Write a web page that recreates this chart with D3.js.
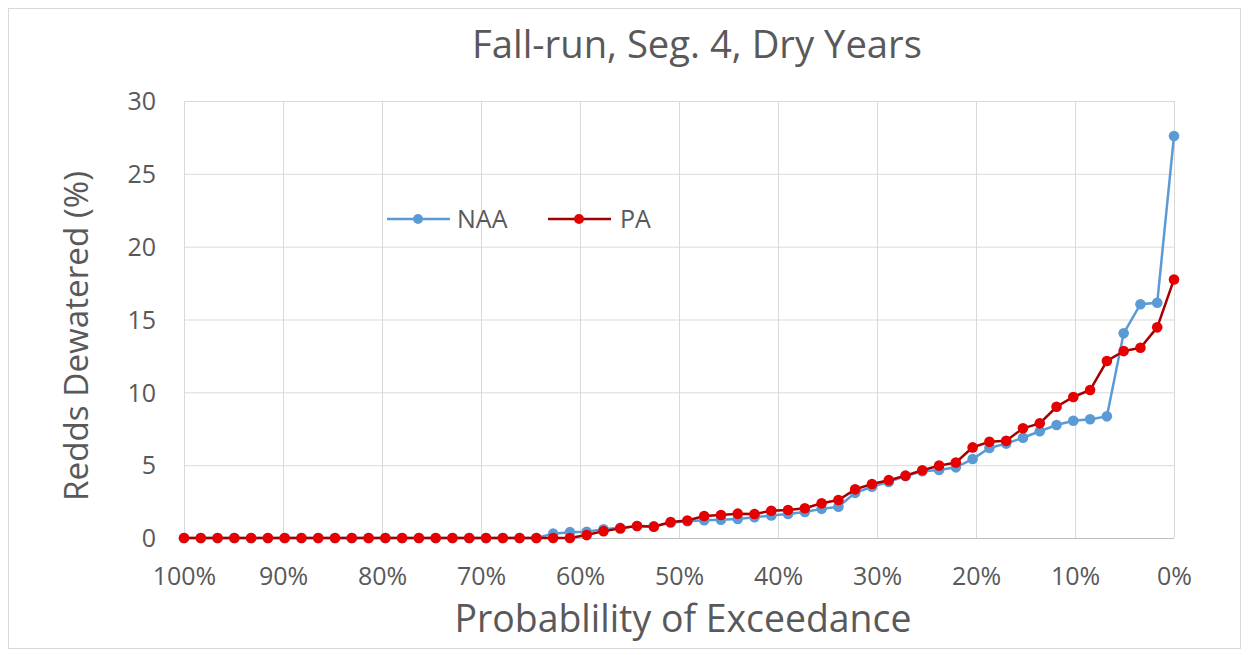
<!DOCTYPE html>
<html><head><meta charset="utf-8">
<script src="https://cdn.jsdelivr.net/npm/d3@7"></script>
<style>body{margin:0;background:#fff;} text{font-family:"Open Sans","Noto Sans",sans-serif;fill:#595959;}</style>
</head><body>
<svg id="chart" width="1249" height="655"></svg>
<script>
const title = "Fall-run, Seg. 4, Dry Years";
const yTitle = "Redds Dewatered (%)";
const xTitle = "Probablility of Exceedance";
const seriesNames = ["NAA", "PA"];
const xTicks = [100, 90, 80, 70, 60, 50, 40, 30, 20, 10, 0];
const yTicks = [0, 5, 10, 15, 20, 25, 30];
const naa = [0,0,0,0,0,0,0,0,0,0,0,0,0,0,0,0,0,0,0,0,0,0,
  0.3,0.4,0.43,0.6,0.7,0.82,0.8,1.05,1.15,1.22,1.25,1.3,1.42,1.55,1.65,1.78,2.0,2.15,
  3.1,3.52,3.85,4.25,4.58,4.67,4.85,5.42,6.18,6.48,6.88,7.33,7.76,8.05,8.15,8.35,
  14.05,16.05,16.15,27.6];
const pa = [0,0,0,0,0,0,0,0,0,0,0,0,0,0,0,0,0,0,0,0,0,0,0,0,
  0.2,0.47,0.66,0.82,0.78,1.1,1.2,1.51,1.58,1.67,1.65,1.87,1.92,2.04,2.38,2.61,
  3.34,3.71,3.97,4.28,4.65,4.97,5.18,6.22,6.6,6.67,7.53,7.87,9.01,9.68,10.16,12.15,
  12.83,13.06,14.46,17.75];
// exceedance probability for each point (evenly spaced from 100% to 0%)
const n = naa.length;
const exceed = d3.range(n).map(i => 100 * (1 - i / (n - 1)));

const svg = d3.select("#chart");
const L = 184, R = 1174, T = 101, B = 538;
const x = d3.scaleLinear().domain([100, 0]).range([L, R]);
const y = d3.scaleLinear().domain([0, 30]).range([B, T]);

// outer frame
svg.append("rect").attr("x", 8.5).attr("y", 8.5).attr("width", 1232).attr("height", 640)
  .attr("fill", "#fff").attr("stroke", "#d9d9d9").attr("stroke-width", 1);

// gridlines
svg.append("g").selectAll("line").data(yTicks).join("line")
  .attr("x1", L).attr("x2", R).attr("y1", d => y(d) + 0.5).attr("y2", d => y(d) + 0.5)
  .attr("stroke", "#d9d9d9").attr("stroke-width", 1);
svg.append("g").selectAll("line").data(xTicks).join("line")
  .attr("y1", T).attr("y2", B).attr("x1", d => x(d) + 0.5).attr("x2", d => x(d) + 0.5)
  .attr("stroke", "#d9d9d9").attr("stroke-width", 1);
// x axis line
svg.append("line").attr("x1", L).attr("x2", R).attr("y1", B + 0.5).attr("y2", B + 0.5)
  .attr("stroke", "#bfbfbf");

// tick labels
const xAxis = d3.axisBottom(x).tickValues(xTicks).tickFormat(d => d + "%").tickSize(0).tickPadding(0);
const gx = svg.append("g").attr("transform", `translate(0,${B})`).call(xAxis);
gx.select(".domain").remove();
gx.selectAll("text").attr("y", 47).attr("dy", null).attr("font-size", 25).style("fill", "#595959")
  .attr("font-family", "'Open Sans',sans-serif");
const yAxis = d3.axisLeft(y).tickValues(yTicks).tickSize(0).tickPadding(0);
const gy = svg.append("g").attr("transform", `translate(${L},0)`).call(yAxis);
gy.select(".domain").remove();
gy.selectAll("text").attr("x", -28).attr("dy", "0.35em").attr("font-size", 25).style("fill", "#595959")
  .attr("font-family", "'Open Sans',sans-serif");

// titles
function fit(sel, w) {
  const cur = sel.node().getComputedTextLength();
  const fs = parseFloat(sel.attr("font-size"));
  sel.attr("font-size", fs * w / cur);
}
const tt = svg.append("text").attr("x", 697).attr("y", 58).attr("text-anchor", "middle")
  .attr("font-size", 28).text(title);
fit(tt, 450);
const xt = svg.append("text").attr("x", 683).attr("y", 632).attr("text-anchor", "middle")
  .attr("font-size", 28).text(xTitle);
fit(xt, 457);
const yt = svg.append("text").attr("transform", "translate(88,336) rotate(-90)").attr("text-anchor", "middle")
  .attr("font-size", 28).text(yTitle);
fit(yt, 330);

// series
const colors = {NAA: {line: "#5b9bd5", dot: "#5b9bd5"}, PA: {line: "#a50000", dot: "#e60000"}};
const data = {NAA: naa, PA: pa};
const line = d3.line().x((d, i) => x(exceed[i])).y(d => y(d));
seriesNames.forEach(name => {
  const vals = data[name];
  const g = svg.append("g");
  g.append("path").attr("d", line(vals)).attr("fill", "none")
    .attr("stroke", colors[name].line).attr("stroke-width", 2.5);
  g.selectAll("circle").data(vals).join("circle")
    .attr("cx", (d, i) => x(exceed[i])).attr("cy", d => y(d)).attr("r", 5.3)
    .attr("fill", colors[name].dot);
});

// legend
const legPos = [{lx: 387, mx: 418, tx: 457}, {lx: 548, mx: 579, tx: 620}];
seriesNames.forEach((name, k) => {
  const p = legPos[k], ly = 219;
  svg.append("line").attr("x1", p.lx).attr("x2", p.lx + 63).attr("y1", ly).attr("y2", ly)
    .attr("stroke", colors[name].line).attr("stroke-width", 2.5);
  svg.append("circle").attr("cx", p.mx).attr("cy", ly).attr("r", 5)
    .attr("fill", colors[name].dot);
  svg.append("text").attr("x", p.tx).attr("y", ly).attr("dy", "0.35em")
    .attr("font-size", 25).text(name);
});
</script>
</body></html>
